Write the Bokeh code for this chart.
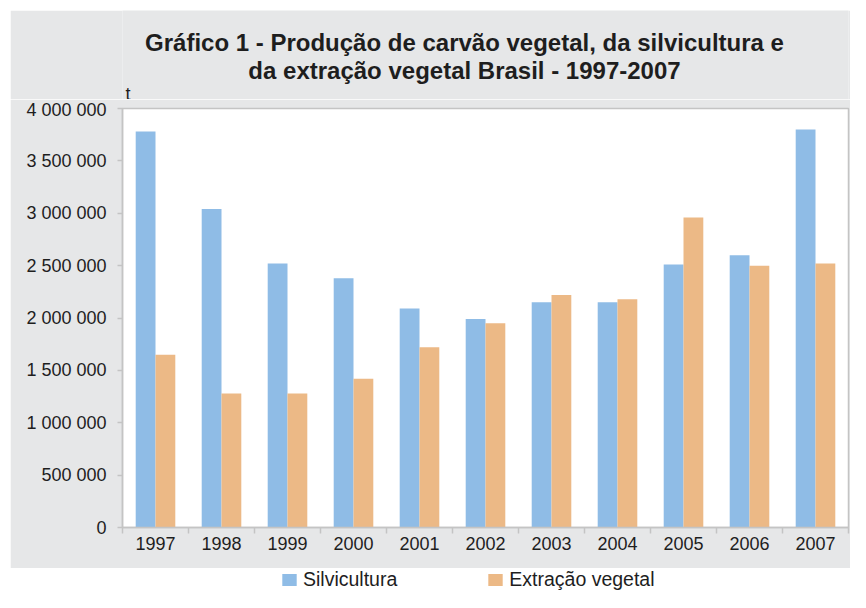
from bokeh.plotting import figure
from bokeh.models import (Range1d, LinearAxis, FixedTicker, CustomJSTickFormatter,
                          Legend, LegendItem, ColumnDataSource)
from bokeh.core.properties import value
from bokeh.layouts import column
from bokeh.transform import dodge
from bokeh.embed import file_html
from bokeh.resources import INLINE

# ---------------- data ----------------
years = ["1997", "1998", "1999", "2000", "2001", "2002", "2003", "2004", "2005", "2006", "2007"]
silvicultura = [3780000, 3040000, 2520000, 2380000, 2090000, 1990000, 2150000, 2150000, 2510000, 2600000, 3800000]
extracao_vegetal = [1650000, 1280000, 1280000, 1420000, 1720000, 1950000, 2220000, 2180000, 2960000, 2500000, 2520000]
y_ticks = [0, 500000, 1000000, 1500000, 2000000, 2500000, 3000000, 3500000, 4000000]
series_names = ["Silvicultura", "Extração vegetal"]
title_lines = ["Gráfico 1 - Produção de carvão vegetal, da silvicultura e",
               "da extração vegetal Brasil - 1997-2007"]
unit_label = "t"

# ---------------- style ----------------
COLORS = ["#8fbce6", "#ecb986"]
GREY = "#e6e7e8"
AXIS_GREY = "#c4c4c4"
FONT = "Liberation Sans"
TEXT = "#1e1e1e"
W = 840            # width of the grey panel
LEFT, RIGHT = 112, 2   # frame borders (shared by all three stacked figures)
HEADER_H = 89

common = dict(output_backend="svg", toolbar_location=None, tools="",
              x_axis_type=None, y_axis_type=None)

# ---------------- header (title + unit) ----------------
hf = figure(width=W, height=HEADER_H, margin=(10, 0, 0, 10),
            x_range=Range1d(0, W - LEFT - RIGHT), y_range=Range1d(0, HEADER_H),
            min_border_left=LEFT, min_border_right=RIGHT, min_border_top=0, min_border_bottom=0,
            border_fill_color=GREY, background_fill_color=GREY, **common)
hf.outline_line_color = None
title_src = ColumnDataSource(dict(x=[342, 342], y=[57, 29], text=title_lines))
hf.text(x="x", y="y", text="text", source=title_src, text_align="center", text_baseline="middle",
        text_font=value(FONT), text_font_style="bold", text_font_size="24px", text_color=TEXT)
hf.text(x=[3], y=[6], text=[unit_label], text_align="left", text_baseline="alphabetic",
        text_font=value(FONT), text_font_size="18px", text_color=TEXT)

# ---------------- main chart ----------------
idx = list(range(len(years)))
src = ColumnDataSource(dict(x=idx, silv=silvicultura, extr=extracao_vegetal))

p = figure(width=W, height=469, margin=(0, 0, 0, 10),
           x_range=Range1d(-0.5, len(years) - 0.5), y_range=Range1d(y_ticks[0], y_ticks[-1]),
           min_border_left=LEFT, min_border_right=RIGHT, min_border_top=9, min_border_bottom=41,
           border_fill_color=GREY, background_fill_color="white", **common)
p.outline_line_color = AXIS_GREY
p.outline_line_width = 1.5

p.vbar(x=dodge("x", -0.15), top="silv", width=0.3, source=src,
       fill_color=COLORS[0], line_color=None)
p.vbar(x=dodge("x", 0.15), top="extr", width=0.3, source=src,
       fill_color=COLORS[1], line_color=None)

xaxis = LinearAxis(
    ticker=FixedTicker(ticks=idx, minor_ticks=[i - 0.5 for i in range(len(years) + 1)]),
    formatter=CustomJSTickFormatter(args=dict(years=years),
                                    code="return years[Math.round(tick)];"),
    axis_line_color=AXIS_GREY, axis_line_width=1.5,
    major_tick_line_color=None, major_tick_out=0, major_tick_in=0,
    minor_tick_line_color=AXIS_GREY, minor_tick_line_width=1.5, minor_tick_out=6, minor_tick_in=0,
    major_label_standoff=3,
    major_label_text_font=FONT, major_label_text_font_size="18px", major_label_text_color=TEXT)
p.add_layout(xaxis, "below")

yaxis = LinearAxis(
    ticker=FixedTicker(ticks=y_ticks, minor_ticks=[]),
    formatter=CustomJSTickFormatter(code=r"""
        return Math.round(tick).toString().replace(/\B(?=(\d{3})+(?!\d))/g, " ");
    """),
    axis_line_color=AXIS_GREY, axis_line_width=1.5,
    major_tick_line_color=AXIS_GREY, major_tick_line_width=1.5, major_tick_out=5, major_tick_in=0,
    minor_tick_line_color=None,
    major_label_standoff=11,
    major_label_text_font=FONT, major_label_text_font_size="18px", major_label_text_color=TEXT)
p.add_layout(yaxis, "left")

# ---------------- legend strip (white, below the grey panel) ----------------
lf = figure(width=W, height=24, margin=(0, 0, 0, 10),
            x_range=Range1d(0, 1), y_range=Range1d(0, 1),
            min_border_left=LEFT, min_border_right=RIGHT, min_border_top=0, min_border_bottom=0,
            background_fill_color="white", border_fill_color="white", **common)
lf.outline_line_color = None
dummy = ColumnDataSource(dict(x=[0.5], top=[0]))
r1 = lf.vbar(x="x", top="top", width=0.01, source=dummy, fill_color=COLORS[0], line_color=None)
r2 = lf.vbar(x="x", top="top", width=0.01, source=dummy, fill_color=COLORS[1], line_color=None)
legend = Legend(items=[LegendItem(label=series_names[0], renderers=[r1]),
                       LegendItem(label=series_names[1], renderers=[r2])],
                orientation="horizontal", location=(158, 1), padding=0, margin=0,
                spacing=89, glyph_width=18, glyph_height=15, label_standoff=5, label_height=15,
                label_text_font=FONT, label_text_font_size="19.5px", label_text_color=TEXT,
                border_line_color=None, background_fill_alpha=0)
lf.add_layout(legend)

layout = column(hf, p, lf, spacing=0)

open("out.html", "w").write(file_html(layout, INLINE))
